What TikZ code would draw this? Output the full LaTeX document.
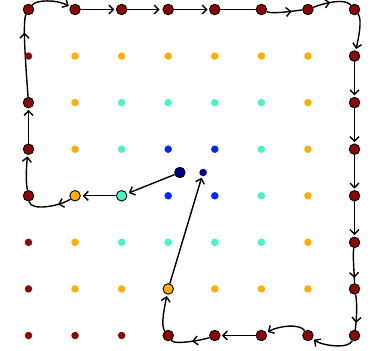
\documentclass[tikz,border=0pt]{standalone}
\usetikzlibrary{arrows.meta,decorations.markings}
\definecolor{cR}{RGB}{140,8,8}
\definecolor{cO}{RGB}{255,175,0}
\definecolor{cA}{RGB}{70,245,200}
\definecolor{cB}{RGB}{0,40,255}
\definecolor{cN}{RGB}{0,0,140}
\pgfdeclarelayer{bg}
\pgfsetlayers{bg,main}
\begin{document}
\begin{tikzpicture}[x=1pt,y=-1pt,
  dot/.style={circle,inner sep=0pt,minimum size=7.5pt,fill=#1},
  pnode/.style={circle,inner sep=0pt,minimum size=10.5pt,fill=#1,draw=black,line width=0.9pt},
  edge/.style={line width=1.4pt,black},
  earr/.style={-{Straight Barb[length=4.5pt,width=9pt]},shorten >=1.5pt},
  arr/.style={postaction={decorate},decoration={markings,mark=at position #1 with {\arrow{Straight Barb[length=4.5pt,width=9pt]}}}}]
\useasboundingbox (0,0) rectangle (371,350);
\def\gx#1{28.5+46.571*#1}
\def\gy#1{9.5+46.571*#1}
% row 0
\foreach \i in {0,...,7} \node[pnode=cR] (d\i0) at ({\gx{\i}},{\gy{0}}) {};
% row 1
\foreach \c [count=\i from 0] in {cR,cO,cO,cO,cO,cO,cO} \node[dot=\c] (d\i1) at ({\gx{\i}},{\gy{1}}) {};
\node[pnode=cR] (d71) at ({\gx{7}},{\gy{1}}) {};
% row 2
\node[pnode=cR] (d02) at ({\gx{0}},{\gy{2}}) {};
\foreach \c [count=\i from 1] in {cO,cA,cA,cA,cA,cO} \node[dot=\c] (d\i2) at ({\gx{\i}},{\gy{2}}) {};
\node[pnode=cR] (d72) at ({\gx{7}},{\gy{2}}) {};
% row 3
\node[pnode=cR] (d03) at ({\gx{0}},{\gy{3}}) {};
\foreach \c [count=\i from 1] in {cO,cA,cB,cB,cA,cO} \node[dot=\c] (d\i3) at ({\gx{\i}},{\gy{3}}) {};
\node[pnode=cR] (d73) at ({\gx{7}},{\gy{3}}) {};
% row 4
\node[pnode=cR] (d04) at ({\gx{0}},{\gy{4}}) {};
\node[pnode=cO] (d14) at ({\gx{1}},{\gy{4}}) {};
\node[pnode=cA] (d24) at ({\gx{2}},{\gy{4}}) {};
\foreach \c [count=\i from 3] in {cB,cB,cA,cO} \node[dot=\c] (d\i4) at ({\gx{\i}},{\gy{4}}) {};
\node[pnode=cR] (d74) at ({\gx{7}},{\gy{4}}) {};
% row 5
\foreach \c [count=\i from 0] in {cR,cO,cA,cA,cA,cA,cO} \node[dot=\c] (d\i5) at ({\gx{\i}},{\gy{5}}) {};
\node[pnode=cR] (d75) at ({\gx{7}},{\gy{5}}) {};
% row 6
\foreach \i/\c in {0/cR,1/cO,2/cO,4/cO,5/cO,6/cO} \node[dot=\c] (d\i6) at ({\gx{\i}},{\gy{6}}) {};
\node[pnode=cO] (d36) at ({\gx{3}},{\gy{6}}) {};
\node[pnode=cR] (d76) at ({\gx{7}},{\gy{6}}) {};
% row 7
\foreach \i in {0,1,2} \node[dot=cR] (d\i7) at ({\gx{\i}},{\gy{7}}) {};
\foreach \i in {3,...,7} \node[pnode=cR] (d\i7) at ({\gx{\i}},{\gy{7}}) {};
% start and goal
\node[pnode=cN] (s) at ({\gx{3.25}},{\gy{3.5}}) {};
\node[dot=cN] (g) at ({\gx{3.75}},{\gy{3.5}}) {};
\begin{pgfonlayer}{bg}
\draw[edge,earr,shorten >=2pt] (s) -- (d24);
\draw[edge,earr,shorten >=2pt] (d24) -- (d14);
\draw[edge,arr=0.3] (d14) .. controls +(-14,10) and +(2,16) .. (d04);
\draw[edge,earr] (d04) .. controls +(-3,-15) and +(-2,15) .. (d03);
\draw[edge,earr] (d03) -- (d02);
\draw[edge,arr=0.78] (d02) .. controls +(-3,-40) and +(-6,12) .. (d00);
\draw[edge,earr] (d00) .. controls +(8,-10) and +(-18,-10) .. (d10);
\draw[edge,earr] (d10) -- (d20);
\draw[edge,earr,shorten >=3pt] (d20) -- (d30);
\draw[edge,earr] (d30) -- (d40);
\draw[edge] (d40) -- (d50);
\draw[edge,arr=0.7] (d50) .. controls +(12,5) and +(-12,1) .. (d60);
\draw[edge,arr=0.45] (d60) .. controls +(15,-6) and +(-10,-12) .. (d70);
\draw[edge,earr] (d70) .. controls +(8,10) and +(4,-18) .. (d71);
\draw[edge,earr] (d71) -- (d72);
\draw[edge,earr] (d72) -- (d73);
\draw[edge,earr] (d73) -- (d74);
\draw[edge,earr] (d74) -- (d75);
\draw[edge,arr=0.85] (d75) .. controls +(-2,15) and +(0,-15) .. (d76);
\draw[edge,arr=0.8] (d76) .. controls +(3,15) and +(2,-15) .. (d77);
\draw[edge,earr] (d77) .. controls +(-6,14) and +(14,10) .. (d67);
\draw[edge,earr] (d67) .. controls +(-8,-12) and +(18,-10) .. (d57);
\draw[edge,earr] (d57) -- (d47);
\draw[edge,arr=0.45] (d47) .. controls +(-10,4) and +(6,10) .. (d37);
\draw[edge,earr] (d37) .. controls +(-8,-10) and +(-3,15) .. (d36);
\draw[edge,earr] (d36) -- (g);
\end{pgfonlayer}
\end{tikzpicture}
\end{document}
